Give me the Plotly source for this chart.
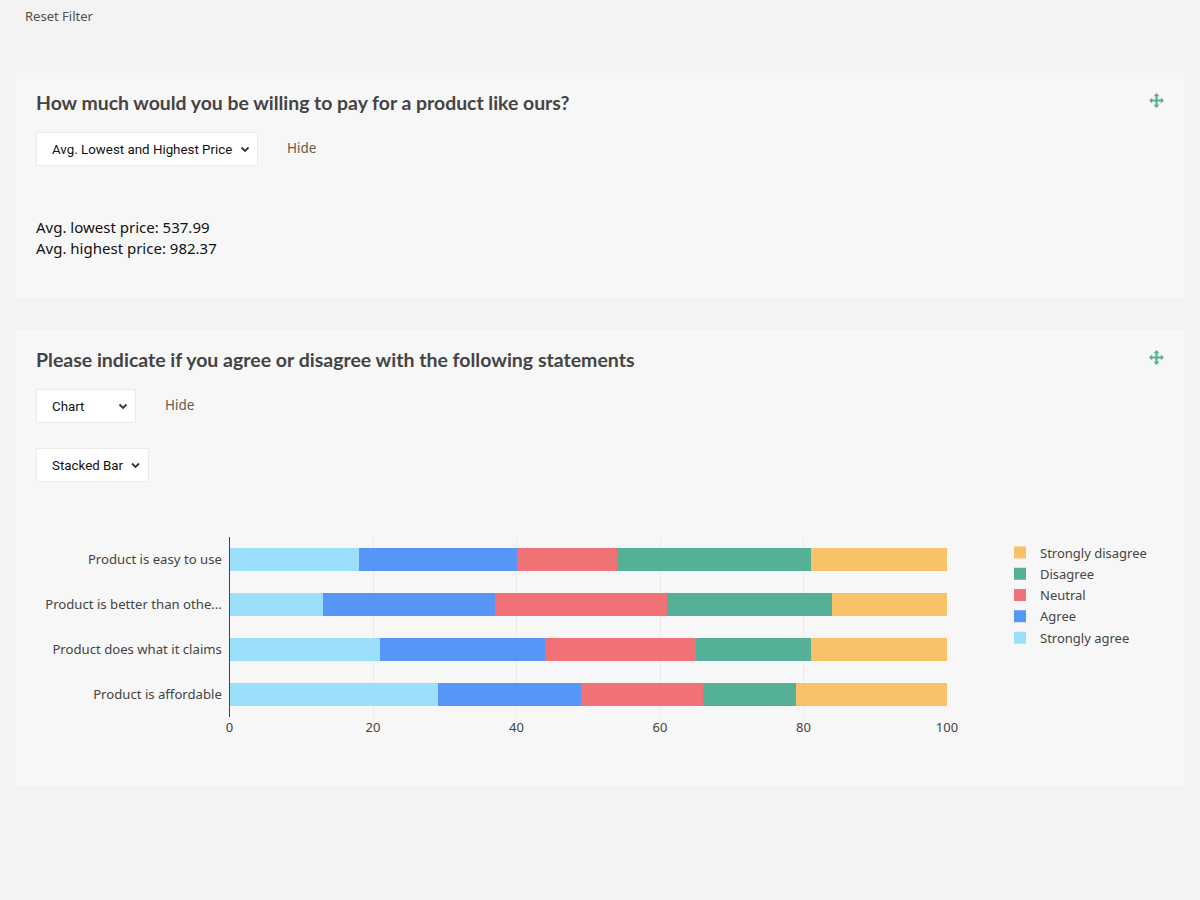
import plotly.graph_objects as go

W, H = 1200, 900

categories = ["Product is easy to use", "Product is better than othe...",
              "Product does what it claims", "Product is affordable"]
strongly_agree = [18, 13, 21, 29]
agree = [22, 24, 23, 20]
neutral = [14, 24, 21, 17]
disagree = [27, 23, 16, 13]
strongly_disagree = [19, 16, 19, 21]
x_ticks = [0, 20, 40, 60, 80, 100]

series_names = ["Strongly agree", "Agree", "Neutral", "Disagree", "Strongly disagree"]
series_values = [strongly_agree, agree, neutral, disagree, strongly_disagree]
series_colors = ["#9CDFFA", "#5596F6", "#F07176", "#54B198", "#F9C269"]
legend_ranks = [5, 4, 3, 2, 1]

title_1 = "How much would you be willing to pay for a product like ours?"
title_2 = "Please indicate if you agree or disagree with the following statements"
price_lines = ["Avg. lowest price: 537.99", "Avg. highest price: 982.37"]

BODY = "Noto Sans, Open Sans, sans-serif"
HEAD = "Lato, sans-serif"
SEL = "Roboto, Liberation Sans, sans-serif"
TXT = "#444444"


def px(x):
    return x / W


def py(y):
    return 1 - y / H


def path(cmds):
    out = []
    for c in cmds:
        if len(c) == 1:
            out.append(c[0])
        else:
            out.append(f"{c[0]} {px(c[1]):.5f},{py(c[2]):.5f}")
    return " ".join(out)


shapes = []


def rect(x0, y0, x1, y1, fill, line=None):
    shapes.append(dict(type="rect", xref="paper", yref="paper", layer="below",
                       x0=px(x0), x1=px(x1), y0=py(y1), y1=py(y0),
                       fillcolor=fill, line=dict(color=line or fill, width=1 if line else 0)))


def chevron(cx, cy):
    shapes.append(dict(type="path", xref="paper", yref="paper", layer="below",
                       path=path([("M", cx - 3.5, cy - 1.5), ("L", cx, cy + 2), ("L", cx + 3.5, cy - 1.5)]),
                       line=dict(color="#333333", width=1.8)))


def move_icon(cx, cy, r=7.5, color="#54B198"):
    a, b = 1.1, 3.0
    i = r - 3.2
    pts = [(0, -r), (b, -i), (a, -i), (a, -a), (i, -a), (i, -b), (r, 0), (i, b), (i, a), (a, a),
           (a, i), (b, i), (0, r), (-b, i), (-a, i), (-a, a), (-i, a), (-i, b), (-r, 0),
           (-i, -b), (-i, -a), (-a, -a), (-a, -i), (-b, -i)]
    cmds = [("M" if k == 0 else "L", cx + p[0], cy + p[1]) for k, p in enumerate(pts)] + [("Z",)]
    shapes.append(dict(type="path", xref="paper", yref="paper", layer="above", path=path(cmds),
                       fillcolor=color, line=dict(width=0)))


rect(16, 73, 1184, 298, "#F7F7F7")
rect(16, 330, 1184, 786, "#F7F7F7")
rect(36.5, 132.5, 257.5, 165.5, "#FFFFFF", "#EBEBEB")
rect(36.5, 389.5, 135.5, 422.5, "#FFFFFF", "#EBEBEB")
rect(36.5, 448.5, 148.5, 481.5, "#FFFFFF", "#EBEBEB")
chevron(245, 149)
chevron(123, 406)
chevron(135.5, 465)
move_icon(1156.5, 100.5)
move_icon(1156.5, 357.5)

annotations = []


def text(x, y, s, size, color=TXT, family=BODY, weight=None):
    label = f"<b>{s}</b>" if weight else s
    annotations.append(dict(xref="paper", yref="paper", x=px(x), y=py(y), text=label, showarrow=False,
                            xanchor="left", yanchor="middle", xshift=0,
                            font=dict(size=size, color=color, family=family), borderpad=0, borderwidth=0))


text(25, 16, "Reset Filter", 13, "#555049")
text(36, 102.6, title_1, 19.4, "#444444", HEAD, True)
text(36, 359.6, title_2, 19.5, "#444444", HEAD, True)
text(52, 149.5, "Avg. Lowest and Highest Price", 13.33, "#111111", SEL)
text(52, 406.5, "Chart", 13.33, "#111111", SEL)
text(52, 465.5, "Stacked Bar", 13.33, "#111111", SEL)
text(287, 148, "Hide", 13.5, "#6B5B4B")
text(165, 405, "Hide", 13.5, "#6B5B4B")
text(36, 227, price_lines[0], 15, "#111111")
text(36, 248, price_lines[1], 15, "#111111")

fig = go.Figure()
for name, vals, col, rank in zip(series_names, series_values, series_colors, legend_ranks):
    fig.add_trace(go.Bar(y=categories, x=vals, name=name, orientation="h", legendgroup=name,
                         legendrank=rank, marker=dict(color=col, line=dict(width=0))))

fig.update_layout(
    width=W, height=H, autosize=False,
    margin=dict(l=0, r=0, t=0, b=0, pad=0, autoexpand=False),
    paper_bgcolor="#F3F3F3", plot_bgcolor="rgba(0,0,0,0)",
    barmode="stack", bargap=0.49,
    font=dict(family=BODY, size=13, color=TXT),
    shapes=shapes, annotations=annotations,
    legend=dict(xref="paper", yref="paper", x=px(1000), y=py(537.5), xanchor="left", yanchor="top",
                traceorder="grouped", tracegroupgap=1.4, bgcolor="rgba(0,0,0,0)", borderwidth=0,
                font=dict(size=13, family=BODY, color=TXT), itemclick=False, itemdoubleclick=False),
    xaxis=dict(domain=[px(229.5), px(947)], range=[0, 100], tickmode="array", tickvals=x_ticks,
               showgrid=True, gridcolor="#EBEBEB", gridwidth=1, zeroline=False, showline=False,
               ticks="", ticklabelstandoff=1, tickfont=dict(size=13, family=BODY, color=TXT),
               fixedrange=True),
    yaxis=dict(domain=[py(717), py(537)], autorange="reversed", type="category",
               showgrid=False, zeroline=False, showline=True, linecolor="#444444", linewidth=1,
               ticks="", ticklabelstandoff=4, tickfont=dict(size=13.15, family=BODY, color=TXT),
               fixedrange=True),
)

fig.write_html("out.html", config=dict(displayModeBar=False),
               post_script="document.body.style.margin='0';document.body.style.overflow='hidden';")
